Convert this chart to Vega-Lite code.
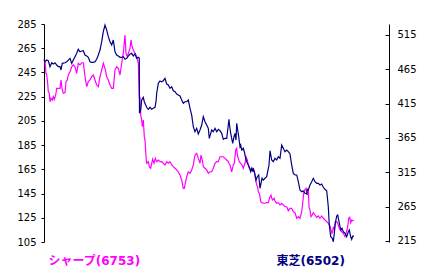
{
  "$schema": "https://vega.github.io/schema/vega-lite/v6.json",
  "width": 345,
  "height": 218,
  "autosize": "none",
  "padding": {"left": 44, "top": 24, "right": 43, "bottom": 31},
  "background": "white",
  "config": {
    "view": {"stroke": null},
    "axis": {"grid": false, "domainColor": "#000000", "tickColor": "#000000", "domainWidth": 1, "tickWidth": 1, "labelFont": "DejaVu Sans", "labelFontSize": 10, "labelColor": "#000000"}
  },
  "datasets": {
    "sharp": [
      {"d":0,"v":255.3},{"d":1,"v":253.9},{"d":2,"v":244.3},{"d":2.7,"v":242.9},{"d":3.7,"v":236.0},{"d":4.3,"v":229.1},{"d":5.3,"v":227.8},{"d":6,"v":220.8},{"d":7,"v":223.7},{"d":8.3,"v":222.2},{"d":9.3,"v":225.0},{"d":10.3,"v":222.8},{"d":11.7,"v":226.4},{"d":12.7,"v":231.9},{"d":14.3,"v":231.9},{"d":16,"v":231.9},{"d":17,"v":238.8},{"d":18,"v":231.9},{"d":19.3,"v":227.8},{"d":21,"v":228.3},{"d":22,"v":237.4},{"d":23.3,"v":238.8},{"d":24.3,"v":242.9},{"d":26,"v":245.6},{"d":27.7,"v":249.7},{"d":29.3,"v":251.2},{"d":31,"v":249.7},{"d":32.7,"v":244.3},{"d":34.3,"v":252.6},{"d":36,"v":251.2},{"d":37.7,"v":253.0},{"d":39.3,"v":253.0},{"d":41,"v":241.5},{"d":42.7,"v":233.2},{"d":44.3,"v":237.4},{"d":46,"v":238.8},{"d":47.7,"v":241.5},{"d":49.3,"v":242.9},{"d":51,"v":238.8},{"d":52.7,"v":234.6},{"d":54.3,"v":233.2},{"d":56,"v":241.5},{"d":57.7,"v":247.0},{"d":59.3,"v":252.6},{"d":61,"v":248.4},{"d":62.7,"v":241.5},{"d":64.3,"v":238.8},{"d":66,"v":234.6},{"d":67.7,"v":231.9},{"d":69.3,"v":231.9},{"d":71,"v":247.0},{"d":72.7,"v":249.7},{"d":74.3,"v":248.4},{"d":76,"v":242.9},{"d":77.7,"v":252.6},{"d":79.3,"v":260.8},{"d":81,"v":275.9},{"d":82,"v":260.8},{"d":83.3,"v":258.0},{"d":84.3,"v":260.8},{"d":86,"v":264.9},{"d":87,"v":271.8},{"d":87.7,"v":267.7},{"d":89.3,"v":263.5},{"d":91,"v":260.8},{"d":92.7,"v":258.0},{"d":94.3,"v":252.6},{"d":95.3,"v":223.7},{"d":96,"v":225.0},{"d":96.7,"v":209.9},{"d":97.7,"v":205.7},{"d":98.3,"v":200.2},{"d":99.3,"v":205.7},{"d":100.3,"v":191.9},{"d":101,"v":189.2},{"d":102,"v":175.4},{"d":102.7,"v":170.0},{"d":104.3,"v":171.3},{"d":105.3,"v":167.2},{"d":106.7,"v":165.9},{"d":107.7,"v":170.0},{"d":108.7,"v":173.3},{"d":110,"v":170.0},{"d":111.3,"v":174.1},{"d":112.7,"v":171.3},{"d":114.3,"v":172.7},{"d":116,"v":171.3},{"d":117.7,"v":171.3},{"d":119.3,"v":170.0},{"d":121,"v":168.6},{"d":122.7,"v":171.3},{"d":124.3,"v":170.0},{"d":126,"v":171.3},{"d":127.7,"v":168.6},{"d":129.3,"v":167.2},{"d":131,"v":165.9},{"d":132.7,"v":164.5},{"d":134.3,"v":163.0},{"d":136,"v":160.3},{"d":137.7,"v":156.2},{"d":139.3,"v":149.3},{"d":140.3,"v":149.3},{"d":141.3,"v":153.5},{"d":142.7,"v":158.9},{"d":144.3,"v":163.0},{"d":146,"v":161.7},{"d":147.7,"v":164.5},{"d":149.3,"v":168.6},{"d":151,"v":176.8},{"d":152.7,"v":178.2},{"d":154.3,"v":174.1},{"d":156,"v":170.0},{"d":157,"v":176.8},{"d":158.3,"v":172.7},{"d":159.3,"v":167.2},{"d":161,"v":165.9},{"d":162.7,"v":164.5},{"d":164.3,"v":161.7},{"d":166,"v":163.0},{"d":167.7,"v":163.0},{"d":169.3,"v":165.9},{"d":171,"v":170.0},{"d":172.7,"v":171.3},{"d":174.3,"v":171.3},{"d":176,"v":175.4},{"d":177.7,"v":175.4},{"d":179.3,"v":175.4},{"d":181,"v":174.1},{"d":182.7,"v":172.7},{"d":184.3,"v":171.3},{"d":185.3,"v":169.4},{"d":186,"v":168.6},{"d":187.7,"v":163.0},{"d":189.3,"v":168.6},{"d":190.3,"v":170.0},{"d":191.7,"v":181.0},{"d":192.7,"v":182.4},{"d":193.3,"v":176.8},{"d":194.3,"v":174.1},{"d":195.3,"v":171.3},{"d":196.7,"v":170.0},{"d":198,"v":168.6},{"d":199.3,"v":165.9},{"d":201,"v":170.0},{"d":202,"v":175.4},{"d":203.3,"v":172.7},{"d":204.3,"v":168.6},{"d":205.3,"v":165.9},{"d":206.7,"v":164.5},{"d":207.7,"v":165.9},{"d":209.3,"v":165.9},{"d":210.7,"v":161.7},{"d":211.7,"v":156.2},{"d":212.7,"v":152.1},{"d":213.7,"v":150.7},{"d":214.3,"v":146.5},{"d":215.3,"v":145.2},{"d":216,"v":142.4},{"d":216.7,"v":138.3},{"d":217.7,"v":137.5},{"d":219.3,"v":137.0},{"d":221,"v":137.0},{"d":222.7,"v":137.5},{"d":224.3,"v":137.5},{"d":226,"v":142.4},{"d":227,"v":143.8},{"d":227.7,"v":141.1},{"d":228.7,"v":139.7},{"d":230,"v":141.1},{"d":231.3,"v":138.3},{"d":232.7,"v":137.0},{"d":234.3,"v":137.5},{"d":236,"v":135.6},{"d":237.7,"v":137.0},{"d":239.3,"v":135.6},{"d":241,"v":134.1},{"d":242.7,"v":134.1},{"d":244.3,"v":130.8},{"d":246,"v":132.8},{"d":247.7,"v":132.8},{"d":249.3,"v":130.0},{"d":251,"v":129.2},{"d":252.7,"v":124.6},{"d":254.3,"v":125.9},{"d":256,"v":124.6},{"d":257.7,"v":130.0},{"d":258.7,"v":137.0},{"d":259.7,"v":145.2},{"d":260.7,"v":147.9},{"d":262,"v":149.3},{"d":263.3,"v":143.8},{"d":264.3,"v":147.9},{"d":265,"v":134.1},{"d":266,"v":131.4},{"d":267,"v":125.9},{"d":268.3,"v":127.3},{"d":269.3,"v":129.2},{"d":271,"v":127.3},{"d":272.7,"v":125.4},{"d":274.3,"v":126.5},{"d":276,"v":124.6},{"d":277.7,"v":126.5},{"d":279.3,"v":124.6},{"d":281,"v":123.2},{"d":282.7,"v":121.8},{"d":284.3,"v":120.4},{"d":286,"v":118.2},{"d":287,"v":114.9},{"d":288,"v":112.2},{"d":288.7,"v":113.5},{"d":289.3,"v":117.6},{"d":290.3,"v":114.9},{"d":291.3,"v":121.8},{"d":292.7,"v":121.8},{"d":293.7,"v":120.4},{"d":294.7,"v":117.6},{"d":296,"v":114.9},{"d":297.7,"v":113.5},{"d":299.3,"v":112.2},{"d":301,"v":109.4},{"d":302,"v":112.2},{"d":303,"v":114.9},{"d":303.7,"v":117.6},{"d":304.7,"v":124.6},{"d":305.7,"v":125.4},{"d":306.7,"v":120.9},{"d":307.7,"v":123.2},{"d":308.7,"v":122.6},{"d":309.7,"v":123.2}
    ],
    "toshiba": [
      {"d":0,"v":479.6},{"d":1,"v":476.1},{"d":2.7,"v":478.5},{"d":4.3,"v":477.5},{"d":6,"v":468.8},{"d":7.7,"v":474.6},{"d":9.3,"v":472.7},{"d":11,"v":474.6},{"d":12.7,"v":471.3},{"d":14.3,"v":468.8},{"d":16,"v":468.8},{"d":17,"v":464.0},{"d":18.3,"v":473.7},{"d":21,"v":474.6},{"d":22.7,"v":476.1},{"d":24.3,"v":478.5},{"d":26,"v":481.0},{"d":27.7,"v":473.7},{"d":29.3,"v":478.5},{"d":31,"v":483.4},{"d":32.7,"v":488.3},{"d":34.3,"v":494.1},{"d":36,"v":490.6},{"d":37.7,"v":491.7},{"d":39.3,"v":492.1},{"d":41,"v":485.8},{"d":42.7,"v":484.4},{"d":44.3,"v":482.5},{"d":46,"v":476.1},{"d":47.7,"v":475.2},{"d":49.3,"v":475.2},{"d":51,"v":476.1},{"d":52.7,"v":479.6},{"d":54.3,"v":485.8},{"d":56,"v":493.1},{"d":57.7,"v":505.2},{"d":59.3,"v":519.8},{"d":61,"v":529.5},{"d":62.7,"v":522.2},{"d":64.3,"v":512.5},{"d":66,"v":505.2},{"d":67.7,"v":500.4},{"d":69.3,"v":507.7},{"d":71,"v":490.6},{"d":72.7,"v":485.8},{"d":74.3,"v":484.4},{"d":76,"v":482.5},{"d":77.7,"v":482.5},{"d":79.3,"v":483.4},{"d":81,"v":479.6},{"d":82.7,"v":481.0},{"d":84.3,"v":484.4},{"d":86,"v":487.3},{"d":87.7,"v":488.3},{"d":89.3,"v":484.4},{"d":91,"v":487.3},{"d":92.7,"v":481.0},{"d":94.3,"v":482.5},{"d":95.3,"v":481.0},{"d":95.5,"v":400.9},{"d":96.7,"v":405.7},{"d":97.7,"v":420.3},{"d":99.3,"v":424.2},{"d":100.3,"v":417.8},{"d":101.7,"v":413.0},{"d":102.7,"v":409.7},{"d":104.3,"v":406.8},{"d":106,"v":409.7},{"d":107.7,"v":406.8},{"d":109.3,"v":408.2},{"d":111,"v":409.7},{"d":112,"v":417.8},{"d":112.7,"v":430.1},{"d":114.3,"v":444.6},{"d":116,"v":448.0},{"d":117.7,"v":446.9},{"d":119.3,"v":448.4},{"d":121,"v":451.9},{"d":122.7,"v":443.6},{"d":124.3,"v":442.1},{"d":126,"v":437.3},{"d":127.7,"v":439.7},{"d":129.3,"v":433.8},{"d":131,"v":432.4},{"d":132.7,"v":429.0},{"d":134.3,"v":427.6},{"d":136,"v":426.1},{"d":137.7,"v":420.3},{"d":139.3,"v":415.5},{"d":141,"v":417.8},{"d":142.7,"v":417.8},{"d":144.3,"v":420.3},{"d":146,"v":408.2},{"d":147.7,"v":398.4},{"d":149.3,"v":381.4},{"d":151,"v":374.1},{"d":152.7,"v":379.1},{"d":154.3,"v":370.8},{"d":156,"v":376.6},{"d":157.7,"v":383.9},{"d":159.3,"v":396.0},{"d":161,"v":388.7},{"d":162.7,"v":383.9},{"d":164.3,"v":379.1},{"d":165.3,"v":364.5},{"d":166.7,"v":371.8},{"d":167.7,"v":376.6},{"d":169.3,"v":374.1},{"d":171,"v":379.1},{"d":172.7,"v":374.1},{"d":174.3,"v":377.6},{"d":176,"v":375.6},{"d":177.7,"v":371.8},{"d":179.3,"v":363.1},{"d":181,"v":364.5},{"d":182.7,"v":364.5},{"d":183.7,"v":376.6},{"d":185,"v":392.2},{"d":185.3,"v":386.4},{"d":186.7,"v":371.8},{"d":187.7,"v":364.5},{"d":188.7,"v":357.2},{"d":190,"v":366.8},{"d":191,"v":371.8},{"d":192,"v":362.0},{"d":192.7,"v":386.4},{"d":193.7,"v":376.6},{"d":194.7,"v":366.8},{"d":196,"v":352.3},{"d":196.7,"v":354.8},{"d":197.7,"v":347.5},{"d":199.3,"v":350.0},{"d":200.3,"v":345.0},{"d":201.3,"v":337.7},{"d":202.7,"v":330.4},{"d":204.3,"v":325.6},{"d":205.3,"v":322.3},{"d":206.7,"v":315.9},{"d":207.7,"v":320.8},{"d":208.7,"v":315.9},{"d":209.3,"v":320.8},{"d":210.7,"v":313.5},{"d":212,"v":303.8},{"d":213.3,"v":308.6},{"d":214.7,"v":311.1},{"d":216,"v":291.7},{"d":217,"v":299.0},{"d":218,"v":306.3},{"d":219.3,"v":303.8},{"d":221,"v":306.3},{"d":222.7,"v":308.6},{"d":223.7,"v":315.9},{"d":225,"v":325.6},{"d":226,"v":346.5},{"d":227.7,"v":332.9},{"d":229.3,"v":330.4},{"d":231,"v":335.4},{"d":232.7,"v":332.9},{"d":234.3,"v":337.7},{"d":236,"v":335.4},{"d":237.7,"v":354.8},{"d":239.3,"v":350.0},{"d":241,"v":345.0},{"d":242.7,"v":347.5},{"d":244.3,"v":345.0},{"d":246,"v":341.7},{"d":247.7,"v":325.6},{"d":249.3,"v":313.5},{"d":251,"v":311.1},{"d":252.7,"v":311.1},{"d":254.3,"v":301.3},{"d":256,"v":289.2},{"d":257.7,"v":286.8},{"d":259.3,"v":287.8},{"d":261,"v":284.4},{"d":262.7,"v":283.4},{"d":263.3,"v":290.2},{"d":264.3,"v":289.2},{"d":266,"v":296.5},{"d":267.7,"v":301.3},{"d":269.3,"v":306.3},{"d":271,"v":301.3},{"d":272.7,"v":299.0},{"d":274.3,"v":299.0},{"d":276,"v":296.5},{"d":277.7,"v":298.0},{"d":279.3,"v":293.2},{"d":281,"v":290.2},{"d":282.7,"v":288.2},{"d":284.3,"v":264.9},{"d":285.3,"v":238.3},{"d":286.7,"v":221.2},{"d":288.3,"v":218.9},{"d":289.3,"v":213.9},{"d":290.3,"v":226.2},{"d":291.3,"v":240.7},{"d":292.7,"v":251.4},{"d":293.7,"v":252.8},{"d":294.7,"v":245.5},{"d":296,"v":235.8},{"d":297,"v":231.0},{"d":298,"v":233.5},{"d":299.3,"v":228.5},{"d":301,"v":226.2},{"d":302.7,"v":221.2},{"d":304.3,"v":228.5},{"d":305.3,"v":231.0},{"d":306.7,"v":221.2},{"d":307.7,"v":217.4},{"d":308.7,"v":222.2},{"d":310,"v":222.2}
    ]
  },
  "layer": [
    {
      "data": {"name": "sharp"},
      "mark": {"type": "line", "color": "#FF00FF", "strokeWidth": 1.2},
      "encoding": {
        "x": {"field": "d", "type": "quantitative", "scale": {"domain": [0, 345], "nice": false, "zero": false}, "axis": null},
        "y": {
          "field": "v", "type": "quantitative",
          "scale": {"domain": [105, 285], "nice": false, "zero": false},
          "axis": {
            "orient": "left", "values": [105, 125, 145, 165, 185, 205, 225, 245, 265, 285],
            "tickSize": 3, "labelPadding": 5,
            "title": "シャープ(6753)", "titleAngle": 0, "titleX": 4, "titleY": 240,
            "titleAlign": "left", "titleBaseline": "alphabetic", "titleColor": "#FF00FF",
            "titleFont": "DejaVu Sans, Noto Sans CJK JP", "titleFontSize": 12, "titleFontWeight": "bold"
          }
        }
      }
    },
    {
      "data": {"name": "toshiba"},
      "mark": {"type": "line", "color": "#000080", "strokeWidth": 1.2},
      "encoding": {
        "x": {"field": "d", "type": "quantitative", "scale": {"domain": [0, 345], "nice": false, "zero": false}, "axis": null},
        "y": {
          "field": "v", "type": "quantitative",
          "scale": {"domain": [213.5, 531], "nice": false, "zero": false},
          "axis": {
            "orient": "right", "values": [215, 265, 315, 365, 415, 465, 515],
            "tickSize": -4, "labelPadding": 12,
            "title": "東芝(6502)", "titleAngle": 0, "titleX": -113, "titleY": 240,
            "titleAlign": "left", "titleBaseline": "alphabetic", "titleColor": "#000080",
            "titleFont": "DejaVu Sans, Noto Sans CJK JP", "titleFontSize": 12, "titleFontWeight": "bold"
          }
        }
      }
    }
  ],
  "resolve": {"scale": {"y": "independent"}}
}
